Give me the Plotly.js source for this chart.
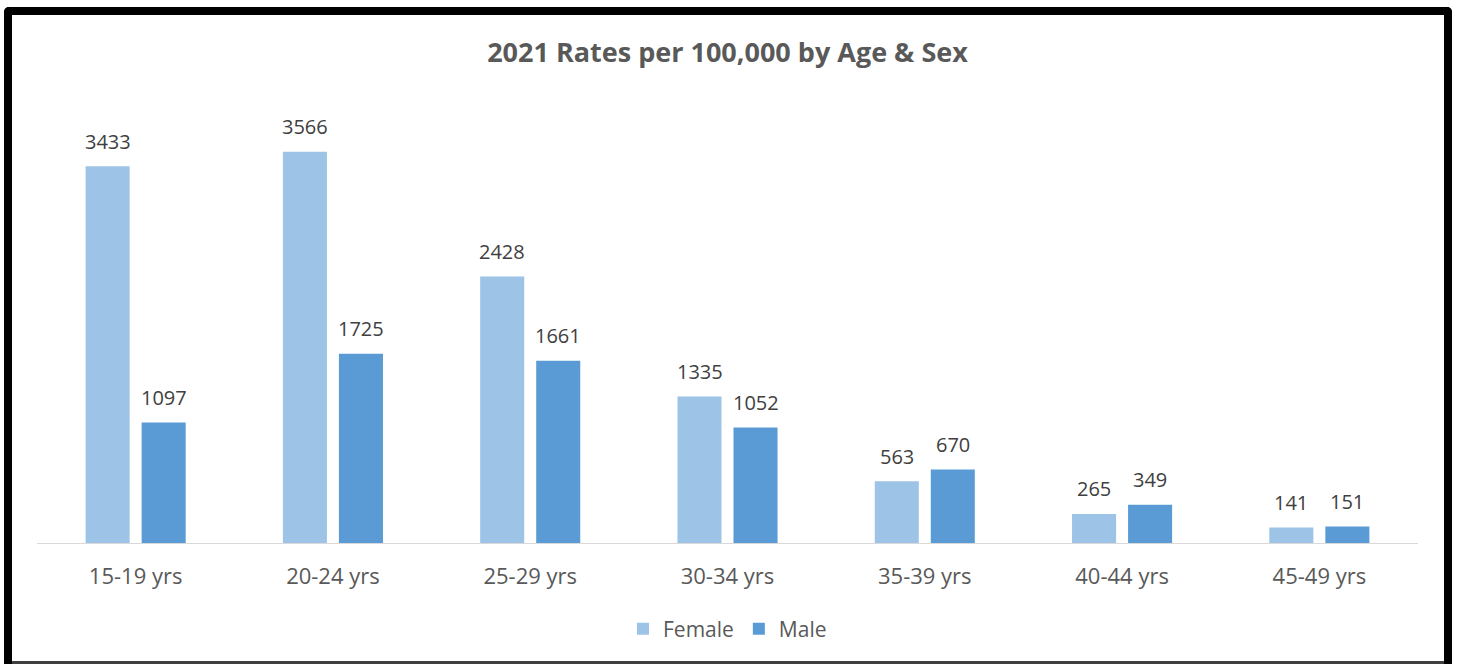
<!DOCTYPE html>
<html>
<head>
<meta charset="utf-8">
<script src="https://cdn.plot.ly/plotly-3.0.1.min.js"></script>
<style>
  html, body { margin: 0; padding: 0; background: #ffffff; }
  #wrap { position: relative; width: 1458px; height: 664px; overflow: hidden; }
  #chart { position: absolute; left: 0; top: 0; width: 1458px; height: 664px; }
  #frame { position: absolute; left: 4px; top: 7px; width: 1432px; height: 660px;
           border: 8px solid #000; border-bottom: 0; border-radius: 5px 5px 0 0; pointer-events: none; }
  #bottomline { position: absolute; left: 12px; top: 661px; width: 1432px; height: 3px; background: #404040; pointer-events: none; }
</style>
</head>
<body>
<div id="wrap">
  <div id="chart"></div>
  <div id="frame"></div>
  <div id="bottomline"></div>
</div>
<script>
const categories = ["15-19 yrs", "20-24 yrs", "25-29 yrs", "30-34 yrs", "35-39 yrs", "40-44 yrs", "45-49 yrs"];
const femaleValues = [3433, 3566, 2428, 1335, 563, 265, 141];
const maleValues = [1097, 1725, 1661, 1052, 670, 349, 151];
const seriesNames = ["Female", "Male"];
const seriesColors = ["#9DC3E6", "#5B9BD5"];

const fontFamily = "'Open Sans', 'Noto Sans', sans-serif";

const traces = [
  { type: "bar", name: seriesNames[0], x: categories, y: femaleValues,
    marker: { color: seriesColors[0] }, hoverinfo: "x+y" },
  { type: "bar", name: seriesNames[1], x: categories, y: maleValues,
    marker: { color: seriesColors[1] }, hoverinfo: "x+y" }
];

// data labels as annotations anchored to each bar's value
const labelFont = { family: fontFamily, size: 20, color: "#404040" };
const annotations = [];
[femaleValues, maleValues].forEach((vals, si) => {
  vals.forEach((v, i) => {
    annotations.push({
      x: categories[i], y: v, xref: "x", yref: "y",
      text: String(v), showarrow: false,
      xshift: si === 0 ? -28 : 28, yshift: 25,
      xanchor: "center", yanchor: "middle",
      font: labelFont
    });
  });
});

const layout = {
  width: 1458, height: 664,
  margin: { l: 37, r: 40, t: 104, b: 121 },
  paper_bgcolor: "#ffffff", plot_bgcolor: "#ffffff",
  font: { family: fontFamily, color: "#595959" },
  title: {
    text: "<b>2021 Rates per 100,000 by Age & Sex</b>",
    font: { family: fontFamily, size: 27, color: "#595959" },
    x: 0.5, xanchor: "center", xref: "paper",
    y: 1 - 53 / 664, yanchor: "middle", yref: "container"
  },
  barmode: "group",
  bargap: 0.432,
  bargroupgap: 0.214,
  xaxis: {
    type: "category",
    showline: true, linecolor: "#D9D9D9", linewidth: 1,
    showgrid: false, zeroline: false, ticks: "",
    tickfont: { family: fontFamily, size: 22, color: "#595959" },
    ticklabelstandoff: 14
  },
  yaxis: {
    range: [0, 4000], visible: false, showgrid: false, zeroline: false
  },
  annotations: annotations,
  showlegend: true,
  legend: {
    orientation: "h", x: 0.5, xanchor: "center", y: -0.196, yanchor: "middle",
    font: { family: fontFamily, size: 21, color: "#595959" },
    itemwidth: 30, traceorder: "normal"
  }
};

Plotly.newPlot("chart", traces, layout, { displayModeBar: false, staticPlot: true });
</script>
</body>
</html>
